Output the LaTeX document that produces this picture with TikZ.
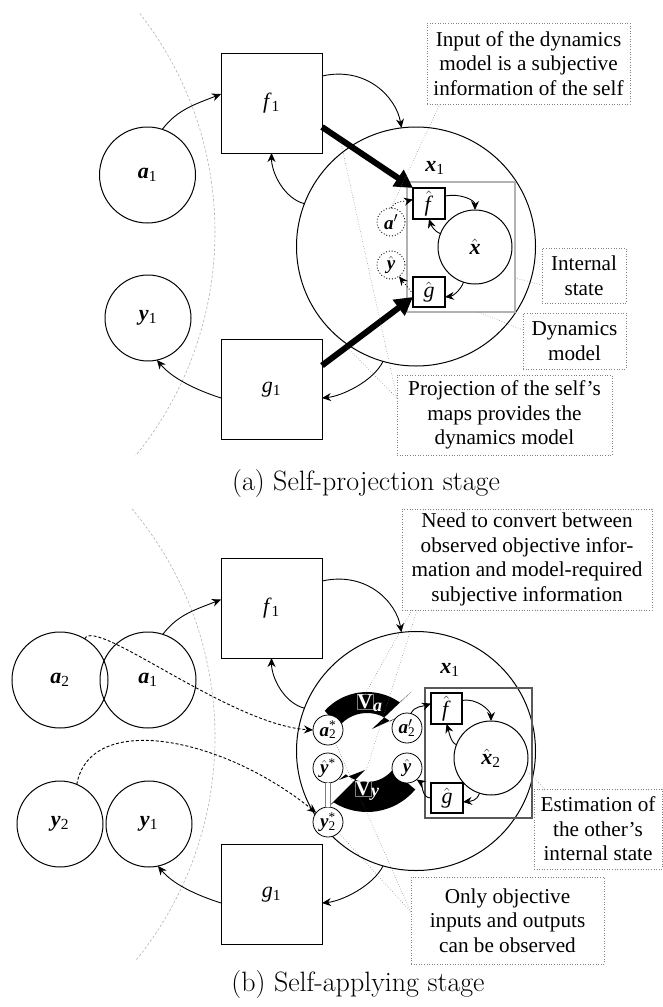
\documentclass[tikz,border=0pt]{standalone}
\usepackage{fontspec}
\setmainfont{Liberation Serif}
\newfontfamily\capfont{Latin Modern Roman}
\usetikzlibrary{arrows.meta}

\newcommand\bi[1]{\textbf{\textit{#1}}}
\newcommand\hatted[1]{$\hat{\hbox{#1}}$}
\newcommand\subsup[2]{\rlap{\textsuperscript{#1}}\textsubscript{#2}}
\newcommand\apos{\char"27\relax}

\begin{document}
\begin{tikzpicture}[x=1pt,y=-1pt,
  every node/.style={inner sep=0pt,outer sep=0pt},
  lblfont/.style={font=\fontsize{22}{26}\selectfont},
  ring/.style={circle,draw,line width=1pt,minimum size=#1,lblfont},
  smallring/.style={circle,draw,line width=0.8pt,minimum size=30pt,fill=white,
    font=\fontsize{19}{22}\selectfont},
  dotring/.style={circle,draw,dotted,line width=0.9pt,minimum size=28pt,
    font=\fontsize{19}{22}\selectfont},
  mapbox/.style={draw,line width=1pt,minimum width=101pt,minimum height=100pt,lblfont},
  hatbox/.style={draw,line width=1.1pt,minimum width=32pt,minimum height=31pt,lblfont},
  statebox/.style={draw=#1,line width=1.1pt},
  note/.style={draw=gray,dotted,line width=0.6pt,align=center,
    font=\fontsize{21.2}{24.5}\selectfont},
  pointer/.style={dotted,draw=gray!80!black,line width=0.5pt},
  conn/.style={-{Stealth[length=9pt,width=8pt]},line width=0.9pt},
  dconn/.style={conn,dash pattern=on 3pt off 2pt},
  pconn/.style={conn,dotted},
  fat/.style={line width=6pt,-{Triangle[length=18pt,width=19pt]}},
  sep/.style={gray!60,dash pattern=on 2.5pt off 2pt,line width=0.6pt},
  vlab/.style={text=white,draw=gray,line width=0.4pt,inner sep=0.6pt,
    font=\fontsize{21}{23}\selectfont\bfseries},
  vsub/.style={text=white,anchor=west,font=\fontsize{18}{20}\selectfont},
  caption/.style={font=\capfont\fontsize{28}{32}\selectfont}
]
\useasboundingbox (0,0) rectangle (663,1007);

% ================= (a) self-projection =================
\draw[sep] (-140,232) ++(-38:355) arc[start angle=-38,end angle=39,radius=355];

\node[mapbox] (f1) at (271.5,103) {\textit{f}\textsubscript{1}};
\node[mapbox] (g1) at (271.5,389.5) {\textit{g}\textsubscript{1}};
\node[ring=96pt] (a1) at (147.5,175) {\bi{a}\textsubscript{1}};
\node[ring=86pt] (y1) at (148,318) {\bi{y}\textsubscript{1}};
\node[ring=239pt] (X1) at (416,246.5) {};
\node[lblfont] (x1) at (435,168) {\bi{x}\textsubscript{1}};
\node[statebox=gray!60,minimum width=108pt,minimum height=130pt] (ism) at (461,247) {};
\node[hatbox] (fh) at (429,203.5) {\hatted{\textit{f}}};
\node[hatbox,minimum height=30pt] (gh) at (429,292) {\hatted{\textit{g}}};
\node[ring=74pt] (xh) at (475,247) {\hatted{\bi{x}}};
\node[dotring] (ap) at (391,222) {\bi{a}$'$};
\node[dotring] (yp) at (391,265) {\hatted{\bi{y}}};

\draw[conn] (a1.72) .. controls +(15,-20) and +(-25,10) .. ([yshift=9pt]f1.west);
\draw[conn] ([yshift=-8.5pt]g1.west) .. controls +(-25,-8) and +(15,18) .. (y1.-78);
\draw[conn] ([yshift=27pt]f1.east) .. controls +(45,-10) and +(-5,-30) .. (X1.97);
\draw[conn] (X1.159) .. controls +(-20,-5) and +(0,20) .. (f1.south);
\draw[conn] (X1.-106) .. controls +(-10,20) and +(20,-2) .. ([yshift=-8.5pt]g1.east);
\draw[conn] ([yshift=7.5pt]fh.east) .. controls +(15,-3) and +(0,-10) .. (xh.north);
\draw[conn] (xh.159) .. controls +(-6,-2) and +(2,6) .. (fh.south);
\draw[conn] (xh.-108) .. controls +(-3,8) and +(8,-1) .. ([yshift=-5pt]gh.east);
\draw[pconn] (ap.north) .. controls +(5,-8) and +(-8,2) .. ([yshift=4pt]fh.west);
\draw[pconn] ([yshift=-2pt]gh.west) -- (yp.-55);

\draw[fat] ([yshift=-24pt]f1.east) -- coordinate[pos=0.2] (t1) (fh.north west);
\draw[fat] ([yshift=24pt]g1.east) -- coordinate[pos=0.27] (t2) ([yshift=-5pt]gh.west);

\node[note,minimum width=203pt,minimum height=81pt] (inp) at (528.5,63.5)
  {Input of the dynamics\\model is a subjective\\information of the self};
\node[note,minimum width=84pt,minimum height=55pt] (ist) at (584,275.5) {Internal\\state};
\node[note,minimum width=103pt,minimum height=56pt] (dyn) at (574.5,341) {Dynamics\\model};
\node[note,minimum width=215pt,minimum height=80pt] (proj) at (504.5,415)
  {Projection of the self\apos s\\maps provides the\\dynamics model};

\draw[pointer] ([xshift=13pt]inp.south west) -- (ap.north);
\draw[pointer] ([yshift=-9.5pt]ist.west) -- ([yshift=-31pt]ism.east);
\draw[pointer] ([yshift=11pt]dyn.west) -- ([xshift=17pt]ism.south);
\draw[pointer] ([yshift=17pt]proj.west) -- (t1);
\draw[pointer] ([yshift=17pt]proj.west) -- (t2);

\node[caption] (capa) at (366,484) {(a) Self-projection stage};

% ================= (b) self-applying =================
\draw[sep] (-140,737) ++(-40:355) arc[start angle=-40,end angle=39,radius=355];

\node[mapbox] (f1b) at (271.5,608) {\textit{f}\textsubscript{1}};
\node[mapbox] (g1b) at (271.5,894.5) {\textit{g}\textsubscript{1}};
\node[ring=96pt] (a2b) at (60,680) {\bi{a}\textsubscript{2}};
\node[ring=96pt] (a1b) at (148,680) {\bi{a}\textsubscript{1}};
\node[ring=86pt] (y2b) at (60,824) {\bi{y}\textsubscript{2}};
\node[ring=86pt] (y1b) at (149,824) {\bi{y}\textsubscript{1}};
\node[ring=239pt] (X1b) at (416,751) {};
\node[lblfont] (x1b) at (450,670) {\bi{x}\textsubscript{1}};
\node[statebox=gray!70!black,minimum width=107pt,minimum height=130pt] (ismb) at (478.5,753) {};
\node[hatbox,minimum width=31pt] (fhb) at (446.5,708.5) {\hatted{\textit{f}}};
\node[hatbox,minimum height=30pt] (ghb) at (447,798) {\hatted{\textit{g}}};
\node[ring=74pt] (xhb) at (491,758) {\hatted{\bi{x}}\textsubscript{2}};

% conversion maps V_a (upper band) and V_y (lower band), each ending in a barbed head
\begin{scope}[shift={(367,749)}]
  \fill (-138:57) arc[start angle=-138,end angle=-55,radius=57]
    -- (44,-57) -- (5,-20) -- (29,-31) -- (-50:36)
    arc[start angle=-50,end angle=-140,radius=36] -- cycle;
  \fill (40:63) arc[start angle=40,end angle=122,radius=63]
    -- (-40,59) -- (-2,21) -- (-28,31) -- (130:33)
    arc[start angle=130,end angle=40,radius=33] -- cycle;
  \coordinate (vytip) at (-1,22);
\end{scope}
\node[vlab] (va) at (365,702) {V};
\node[vsub] (vas) at ([yshift=-5pt]va.east) {\bi{a}};
\node[vlab] (vy) at (363,789) {V};
\node[vsub] (vys) at ([yshift=-5pt]vy.east) {\bi{y}};

\node[smallring] (a2s) at (328,730) {\bi{a}\subsup{*}{2}};
\node[smallring] (a2p) at (407,728) {\bi{a}\subsup{$\prime$}{2}};
\node[smallring] (ysb) at (328,768) {\hatted{\bi{y}}\textsuperscript{*}};
\node[smallring] (yhb) at (407,768) {\hatted{\bi{y}}};
\node[smallring] (y2s) at (328,822) {\bi{y}\subsup{*}{2}};
\draw[gray,double=white,double distance=4pt,line width=0.6pt] (ysb.south) -- (y2s.north);

\draw[conn] (a1b.72) .. controls +(15,-20) and +(-25,10) .. ([yshift=8.5pt]f1b.west);
\draw[conn] ([yshift=-8.5pt]g1b.west) .. controls +(-25,-8) and +(15,18) .. (y1b.-78);
\draw[conn] ([yshift=27pt]f1b.east) .. controls +(45,-10) and +(-5,-30) .. (X1b.97);
\draw[conn] (X1b.159) .. controls +(-20,-5) and +(0,20) .. (f1b.south);
\draw[conn] (X1b.-106) .. controls +(-10,20) and +(20,-2) .. ([yshift=-8.5pt]g1b.east);
\draw[conn] ([yshift=8pt]fhb.east) .. controls +(15,-3) and +(0,-10) .. (xhb.north);
\draw[conn] (xhb.159) .. controls +(-6,-2) and +(2,6) .. (fhb.south);
\draw[conn] (xhb.-108) .. controls +(-3,8) and +(8,-1) .. ([yshift=-4pt]ghb.east);
\draw[conn] ([yshift=0pt]ghb.west) .. controls +(-10,0) and +(6,4) .. (yhb.-50);
\draw[conn] (a2p.75) .. controls +(4,-8) and +(-8,3) .. ([yshift=5pt]fhb.west);
\draw[dconn] (a2b.59) .. controls +(10,-23) and +(-83,-5) .. (a2s.west);
\draw[dconn] (y2b.67) .. controls +(13,-73) and +(-95,-77) .. (y2s.142);

\node[note,minimum width=250pt,minimum height=101pt] (need) at (527,559.5)
  {Need to convert between\\observed objective infor-\\mation and model-required\\subjective information};
\node[note,minimum width=128pt,minimum height=80pt] (est) at (598,829)
  {Estimation of\\the other\apos s\\internal state};
\node[note,minimum width=193pt,minimum height=87pt] (only) at (507.5,920.5)
  {Only objective\\inputs and outputs\\can be observed};

\draw[pointer] ([xshift=10pt]need.south west) -- (va.north);
\draw[pointer] ([xshift=15pt]need.south west) -- (vytip);
\draw[pointer] (xhb.-19) -- ([xshift=11pt]est.north west);
\draw[pointer] ([yshift=8.5pt]only.west) -- (a2s.-60);
\draw[pointer] ([yshift=8.5pt]only.west) -- (y2s.-45);

\node[caption] (capb) at (358,985) {(b) Self-applying stage};
\end{tikzpicture}
\end{document}
